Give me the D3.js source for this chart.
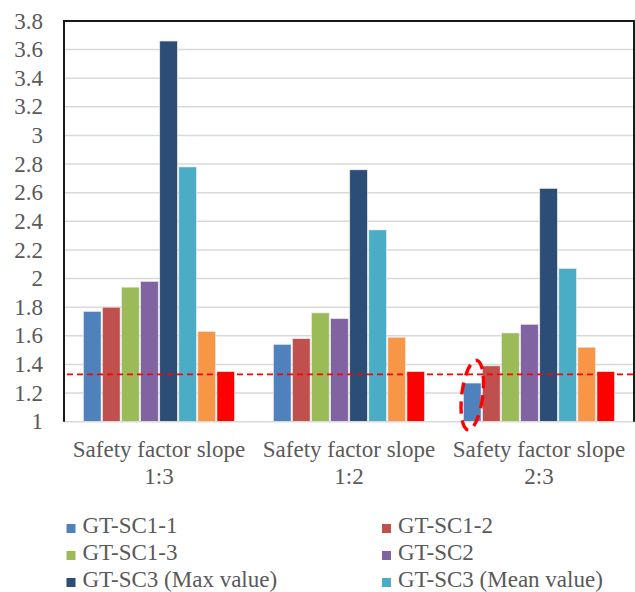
<!DOCTYPE html>
<html>
<head>
<meta charset="utf-8">
<script src="https://cdn.jsdelivr.net/npm/d3@7"></script>
<style>
  body { margin: 0; background: #fff; }
  svg text { font-family: "Liberation Serif", "Times New Roman", serif; }
</style>
</head>
<body>
<div id="chart"></div>
<script>
// data
var categories = ['Safety factor slope|1:3', 'Safety factor slope|1:2', 'Safety factor slope|2:3'];
var seriesNames = ['GT-SC1-1', 'GT-SC1-2', 'GT-SC1-3', 'GT-SC2', 'GT-SC3 (Max value)', 'GT-SC3 (Mean value)', 'Series 7', 'Series 8'];
var seriesColors = ['#4F81BD', '#C0504D', '#9BBB59', '#8064A2', '#2C4D75', '#4BACC6', '#F79646', '#FF0000'];
var values = [
    [1.77, 1.80, 1.94, 1.98, 3.66, 2.78, 1.63, 1.35],
    [1.54, 1.58, 1.76, 1.72, 2.76, 2.34, 1.59, 1.35],
    [1.27, 1.39, 1.62, 1.68, 2.63, 2.07, 1.52, 1.35]
];
var yTicks = [1, 1.2, 1.4, 1.6, 1.8, 2, 2.2, 2.4, 2.6, 2.8, 3, 3.2, 3.4, 3.6, 3.8];
var yTickLabels = ['1', '1.2', '1.4', '1.6', '1.8', '2', '2.2', '2.4', '2.6', '2.8', '3', '3.2', '3.4', '3.6', '3.8'];
var refLine = 1.33;
var legendShown = 6; // only first 6 entries are visible

var width = 635, height = 592;
var margin = {left: 64, right: 1, top: 21, bottom: 170};
var fontSize = '23px';
var textColor = '#595959';
var serif = '"Liberation Serif", "Times New Roman", serif';

var svg = d3.select('#chart').append('svg')
    .attr('width', width)
    .attr('height', height)
    .attr('font-family', serif);

var x0 = d3.scaleBand()
    .domain(categories)
    .range([margin.left, width - margin.right])
    .paddingInner(0)
    .paddingOuter(0);

var x1 = d3.scaleBand()
    .domain(seriesNames)
    .range([19.5, x0.bandwidth() - 19.5])
    .paddingInner(0.08);

var y = d3.scaleLinear()
    .domain([1, 3.8])
    .range([height - margin.bottom - 0.3, margin.top]);

// gridlines
svg.append('g')
    .selectAll('line')
    .data(yTicks.slice(1, -1))
    .enter()
    .append('line')
    .attr('x1', margin.left)
    .attr('x2', width - margin.right)
    .attr('y1', d => y(d))
    .attr('y2', d => y(d))
    .attr('stroke', '#d9d9d9')
    .attr('stroke-width', 1.5);

// y tick labels
svg.append('g')
    .selectAll('text')
    .data(yTicks)
    .enter()
    .append('text')
    .attr('x', margin.left - 21)
    .attr('y', d => y(d))
    .attr('dy', '0.33em')
    .attr('text-anchor', 'end')
    .attr('fill', textColor)
    .style('font-size', fontSize)
    .text((d, i) => yTickLabels[i]);

// bars
var groups = svg.selectAll('.grp')
    .data(values)
    .enter()
    .append('g')
    .attr('class', 'grp')
    .attr('transform', (d, i) => 'translate(' + x0(categories[i]) + ',0)');

groups.selectAll('rect')
    .data(d => d.map((v, j) => ({name: seriesNames[j], value: v, color: seriesColors[j]})))
    .enter()
    .append('rect')
    .attr('x', d => x1(d.name))
    .attr('width', x1.bandwidth())
    .attr('y', d => y(d.value))
    .attr('height', d => y(1) - y(d.value))
    .attr('fill', d => d.color)
    .attr('stroke', '#e8e8e8')
    .attr('stroke-width', 0.6);

// bottom axis line
svg.append('line')
    .attr('x1', margin.left)
    .attr('x2', width - margin.right)
    .attr('y1', y(1))
    .attr('y2', y(1))
    .attr('stroke', '#d9d9d9')
    .attr('stroke-width', 1.5);

// plot border (top, left, right)
svg.append('path')
    .attr('d', 'M' + margin.left + ',' + y(1) + 'V' + y(3.8) + 'H' + (width - margin.right) + 'V' + y(1))
    .attr('fill', 'none')
    .attr('stroke', '#1a1a1a')
    .attr('stroke-width', 2);

// category labels
var xlab = svg.append('g')
    .selectAll('text')
    .data(categories)
    .enter()
    .append('text')
    .attr('x', d => x0(d) + x0.bandwidth() / 2)
    .attr('y', y(1) + 35.5)
    .attr('text-anchor', 'middle')
    .attr('fill', textColor)
    .style('font-size', fontSize);
xlab.append('tspan')
    .attr('x', d => x0(d) + x0.bandwidth() / 2)
    .text(d => d.split('|')[0]);
xlab.append('tspan')
    .attr('x', d => x0(d) + x0.bandwidth() / 2)
    .attr('dy', 27)
    .text(d => d.split('|')[1]);

// reference dashed line
svg.append('line')
    .attr('x1', margin.left + 3)
    .attr('x2', width)
    .attr('y1', y(refLine))
    .attr('y2', y(refLine))
    .attr('stroke', '#FF0000')
    .attr('stroke-width', 1.8)
    .attr('stroke-dasharray', '6,4');

// dashed ellipse around GT-SC1-1 at 2:3
var ex = x0(categories[2]) + x1(seriesNames[0]) + x1.bandwidth() / 2;
var ey = y(1.27) + 12;
svg.append('ellipse')
    .attr('cx', ex)
    .attr('cy', ey)
    .attr('rx', 10.5)
    .attr('ry', 35)
    .attr('transform', 'rotate(7,' + ex + ',' + ey + ')')
    .attr('fill', 'none')
    .attr('stroke', '#FF0000')
    .attr('stroke-width', 3.4)
    .attr('stroke-dasharray', '12,7');

// legend
var legendData = seriesNames.slice(0, legendShown);
var leg = svg.append('g')
    .selectAll('g')
    .data(legendData)
    .enter()
    .append('g')
    .attr('transform', (d, i) => 'translate(' + (i % 2 === 0 ? 66.5 : 382) + ',' + (533 + Math.floor(i / 2) * 27) + ')');

leg.append('rect')
    .attr('x', 0)
    .attr('y', -9)
    .attr('width', 9)
    .attr('height', 9)
    .attr('fill', (d, i) => seriesColors[i]);

leg.append('text')
    .attr('x', 16)
    .attr('y', 0)
    .attr('fill', textColor)
    .style('font-size', fontSize)
    .text(d => d);
</script>
</body>
</html>
